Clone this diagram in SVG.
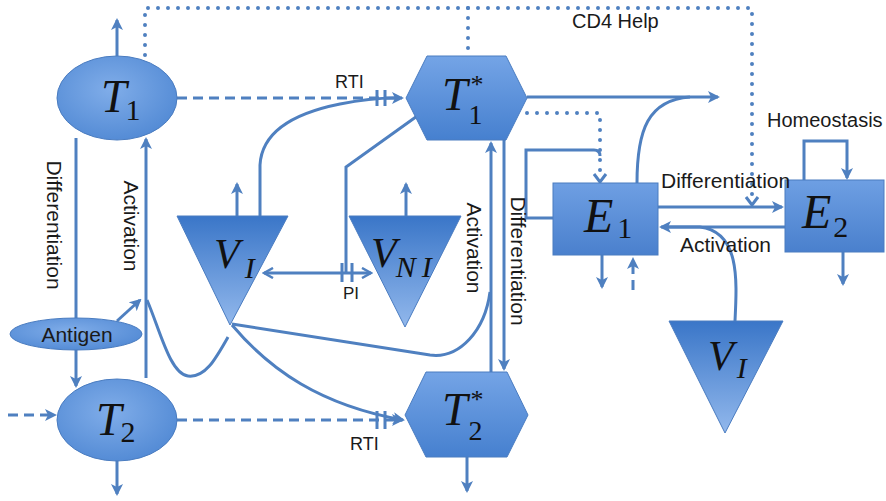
<svg xmlns="http://www.w3.org/2000/svg" width="886" height="501" viewBox="0 0 886 501">
<style>
.c{fill:none;stroke:#4f80c0;stroke-width:3}
.d{stroke-dasharray:10 6}
.o{stroke-width:4;stroke-dasharray:0 10;stroke-linecap:round}
.n{stroke:#4a7cc0;stroke-width:1}
.m{font-family:"Liberation Serif",serif;font-style:italic;font-size:46px;fill:#111}
.s{font-family:"Liberation Serif",serif;font-style:normal;font-size:30px}
.si{font-family:"Liberation Serif",serif;font-style:italic;font-size:30px}
.l{font-family:"Liberation Sans",Arial,sans-serif;font-size:21px;fill:#1a1a1a}
.r{font-family:"Liberation Sans",Arial,sans-serif;font-size:18px;fill:#1a1a1a}
</style>
<defs>
<marker id="a" viewBox="0 0 12 12" refX="10" refY="6" markerWidth="12" markerHeight="12" markerUnits="userSpaceOnUse" orient="auto-start-reverse"><path d="M0,0 L12,6 L0,12 L3,6 z" fill="#4f80c0"/></marker>
<marker id="v" viewBox="0 0 12 12" refX="10" refY="6" markerWidth="12" markerHeight="12" markerUnits="userSpaceOnUse" orient="auto-start-reverse"><path d="M1,1 L10,6 L1,11" fill="none" stroke="#4f80c0" stroke-width="2.5"/></marker>
<linearGradient id="gTri" x1="0" y1="0" x2="0" y2="1"><stop offset="0" stop-color="#3a76c8"/><stop offset="1" stop-color="#92b8ec"/></linearGradient>
<linearGradient id="gHex" x1="0" y1="0" x2="0" y2="1"><stop offset="0" stop-color="#74a4e6"/><stop offset="1" stop-color="#4680cf"/></linearGradient>
<linearGradient id="gRect" x1="0" y1="0" x2="0" y2="1"><stop offset="0" stop-color="#6e9fe3"/><stop offset="1" stop-color="#4a80cd"/></linearGradient>
<radialGradient id="gEll" cx="0.45" cy="0.4" r="0.65"><stop offset="0" stop-color="#80ade9"/><stop offset="1" stop-color="#5189d4"/></radialGradient>
</defs>
<rect width="886" height="501" fill="#fff"/>
<g id="connectors">
<path class="c" d="M117,56 V20" marker-end="url(#a)"/>
<path class="c" d="M117,460 V494" marker-end="url(#a)"/>
<path class="c d" d="M8,415 H55" marker-end="url(#a)"/>
<path class="c" d="M76,138 V386" marker-end="url(#a)"/>
<path class="c" d="M146,378 V139" marker-end="url(#a)"/>
<path class="c" d="M117,321 L140,300" marker-end="url(#a)"/>
<path class="c" d="M228,337 C215,360 205,378 188,376 C170,374 160,330 147,300"/>
<path class="c d" d="M177,98 H402" marker-end="url(#a)"/>
<path class="c" d="M377,90 V106 M385,90 V106"/>
<path class="c" d="M260,216 V165 C262,128 300,112 340,104 C360,100 380,98 395,98"/>
<path class="c" d="M420,114 L346,167 V272"/>
<path class="c" d="M264,273 H371" marker-start="url(#v)" marker-end="url(#v)"/>
<path class="c" d="M342,263 V282 M352,263 V282"/>
<path class="c" d="M232,324 L430,355 C460,359 485,330 490,292"/>
<path class="c" d="M232,325 C270,370 320,405 403,420" marker-end="url(#a)"/>
<path class="c d" d="M177,420 H402" marker-end="url(#a)"/>
<path class="c" d="M377,411 V429 M385,411 V429"/>
<path class="c" d="M491,372 V143" marker-end="url(#a)"/>
<path class="c" d="M504,140 V369" marker-end="url(#a)"/>
<path class="c" d="M527,97 H718" marker-end="url(#a)"/>
<path class="c" d="M637,183 C637,130 648,100 690,97"/>
<path class="c o" d="M527,113 H600 V172"/>
<path class="c" d="M594,174 L600,182 L606,174" stroke-width="2.5"/>
<path class="c" d="M553,218 H526 V150 H594 C598,150 600,152 600,156"/>
<path class="c" d="M602,255 V287" marker-end="url(#a)"/>
<path class="c d" d="M633,290 V259" marker-end="url(#a)"/>
<path class="c" d="M658,207 H782" marker-end="url(#a)"/>
<path class="c" d="M785,227 H661" marker-end="url(#a)"/>
<path class="c" d="M735,321 C737,280 740,232 700,227 L668,227"/>
<path class="c o" d="M145,55 V8 H752 V195"/>
<path class="c o" d="M468,8 V55"/>
<path class="c" d="M746,197 L752,205 L758,197" stroke-width="2.5"/>
<path class="c" d="M804,180 V141 H847 V178" marker-end="url(#a)"/>
<path class="c" d="M843,252 V284" marker-end="url(#a)"/>
<path class="c" d="M237,216 V184" marker-end="url(#a)"/>
<path class="c" d="M406,216 V184" marker-end="url(#a)"/>
<path class="c" d="M467,457 V491" marker-end="url(#a)"/>
</g>
<g id="t1"><ellipse class="n" cx="117" cy="98" rx="60" ry="42" fill="url(#gEll)"/><text class="m" x="101" y="112">T<tspan class="s" dx="-1" dy="8">1</tspan></text></g>
<g id="t2"><ellipse class="n" cx="117" cy="420" rx="60" ry="41" fill="url(#gEll)"/><text class="m" x="96" y="435">T<tspan class="s" dx="-1" dy="7">2</tspan></text></g>
<g id="antigen"><ellipse class="n" cx="76" cy="334" rx="66" ry="16" fill="url(#gEll)"/><text class="l" x="77" y="342" text-anchor="middle">Antigen</text></g>
<g id="t1s"><polygon class="n" points="406,98 427,56 506,56 527,98 506,140 427,140" fill="url(#gHex)"/><text class="m" x="442" y="110">T<tspan class="s" dx="1" dy="14" style="font-size:28px">1</tspan><tspan class="s" dx="-12" dy="-31" style="font-size:26px">*</tspan></text></g>
<g id="t2s"><polygon class="n" points="405,415 426,372 507,372 528,415 507,457 426,457" fill="url(#gHex)"/><text class="m" x="442" y="425">T<tspan class="s" dx="1" dy="15" style="font-size:28px">2</tspan><tspan class="s" dx="-12" dy="-32" style="font-size:26px">*</tspan></text></g>
<g id="vi"><polygon class="n" points="177,216 288,216 230,325" fill="url(#gTri)"/><text class="m" x="214" y="268" style="font-size:42px">V<tspan class="si" dx="5" dy="10">I</tspan></text></g>
<g id="vni"><polygon class="n" points="349,216 461,216 405,327" fill="url(#gTri)"/><text class="m" x="371" y="267" style="font-size:42px">V<tspan class="si" dx="-1" dy="10">N</tspan><tspan class="si" dx="6">I</tspan></text></g>
<g id="e1"><rect class="n" x="553" y="183" width="105" height="72" fill="url(#gRect)"/><text class="m" x="584" y="232" style="font-size:48px">E<tspan class="s" dx="4" dy="6">1</tspan></text></g>
<g id="e2"><rect class="n" x="785" y="180" width="99" height="72" fill="url(#gRect)"/><text class="m" x="802" y="228" style="font-size:48px">E<tspan class="s" dx="2" dy="9">2</tspan></text></g>
<g id="vi2"><polygon class="n" points="669,321 783,321 725,433" fill="url(#gTri)"/><text class="m" x="708" y="370" style="font-size:42px">V<tspan class="si" dx="3" dy="8">I</tspan></text></g>
<g id="labels">
<text class="l" x="572" y="28" style="font-size:20px">CD4 Help</text>
<text class="l" x="767" y="127" style="font-size:20px">Homeostasis</text>
<text class="l" x="661" y="188">Differentiation</text>
<text class="l" x="680" y="252">Activation</text>
<text class="r" x="335" y="88">RTI</text>
<text class="r" x="350" y="450">RTI</text>
<text class="r" x="343" y="299" style="font-size:17px">PI</text>
<text class="l" transform="translate(47,225) rotate(90)" text-anchor="middle">Differentiation</text>
<text class="l" transform="translate(124,226) rotate(90)" text-anchor="middle">Activation</text>
<text class="l" transform="translate(467,248) rotate(90)" text-anchor="middle">Activation</text>
<text class="l" transform="translate(511,261) rotate(90)" text-anchor="middle">Differentiation</text>
</g>
</svg>
